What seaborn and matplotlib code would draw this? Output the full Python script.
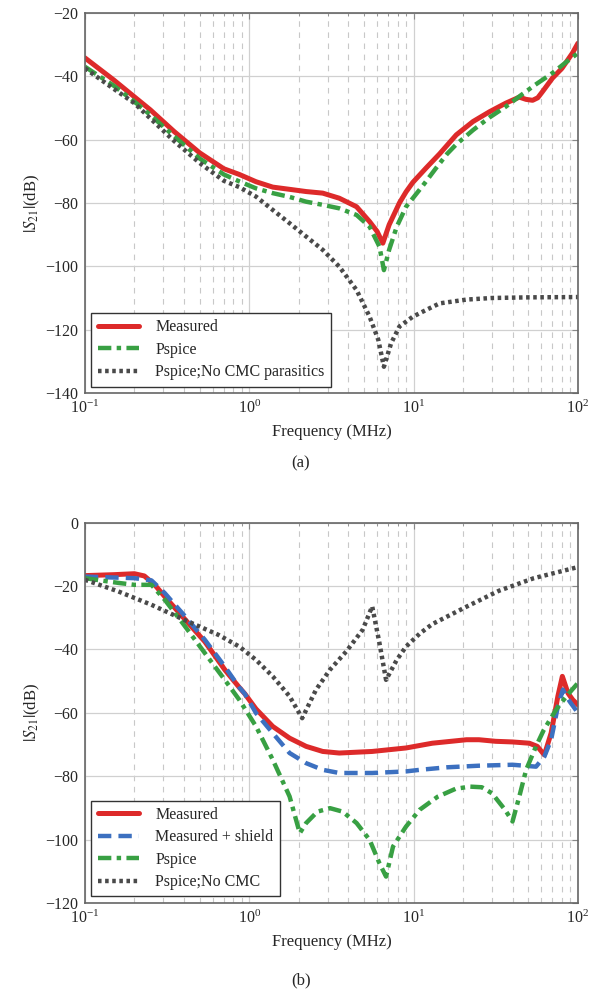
import numpy as np
import pandas as pd
import matplotlib
matplotlib.use("Agg")
import matplotlib.pyplot as plt
import seaborn as sns
from matplotlib.ticker import LogLocator, NullFormatter

# ---------------- Panel (a) data ----------------
a_meas_f = [0.1, 0.15, 0.2, 0.25, 0.35, 0.5, 0.7, 0.87, 1.1, 1.39, 1.76, 2.22, 2.8, 3.53, 4.5, 5.4, 6.0, 6.5,
            7.1, 8.2, 9.0, 9.9, 11.9, 14.4, 16.5, 18.2, 23, 29, 36.4, 44, 48.3, 53, 57, 61, 70, 80, 92.6, 100]
a_meas_y = [-34.2, -41.2, -46.5, -50.6, -57.5, -64.2, -69.2, -71.0, -73.3, -75.0, -75.7, -76.4, -76.9, -78.5,
            -81.2, -85.9, -89.0, -92.7, -86.9, -80.0, -76.5, -73.5, -69.0, -64.5, -61.0, -58.5, -54.3, -51.2,
            -48.5, -46.6, -47.3, -47.6, -46.8, -44.8, -40.6, -37.5, -32.7, -29.6]

a_psp_f = [0.1, 0.15, 0.2, 0.25, 0.35, 0.5, 0.7, 0.87, 1.1, 1.39, 1.76, 2.22, 2.8, 3.53, 4.5, 5.4, 6.2, 6.6,
           7.1, 7.9, 9.0, 11.4, 13.7, 16, 18.2, 23, 29, 36.4, 45, 55, 70, 85, 100]
a_psp_y = [-37.0, -43.0, -48.0, -52.2, -59.0, -66.0, -71.0, -73.2, -75.4, -76.9, -78.1, -79.6, -80.6, -81.7,
           -83.8, -87.5, -93.8, -101.2, -94.8, -87.5, -81.2, -74.5, -69.0, -64.5, -61.5, -57.0, -53.0, -49.6,
           -46.0, -42.7, -39.0, -35.5, -32.7]

a_nocmc_f = [0.1, 0.15, 0.2, 0.25, 0.35, 0.5, 0.7, 0.87, 1.1, 1.39, 1.76, 2.22, 2.8, 3.53, 4.5, 5.4, 6.1, 6.6,
             7.3, 8.2, 9.9, 11.9, 14.4, 21, 30, 50, 100]
a_nocmc_y = [-37.5, -44.0, -48.5, -53.3, -60.5, -67.4, -73.0, -75.0, -78.0, -82.2, -86.4, -90.6, -94.8, -100.1,
             -107.5, -115.9, -123.2, -131.7, -124.3, -119.0, -115.9, -113.8, -111.7, -110.5, -110.0, -109.8, -109.7]

# ---------------- Panel (b) data ----------------
b_meas_f = [0.1, 0.15, 0.2, 0.23, 0.266, 0.306, 0.4, 0.536, 0.71, 0.87, 0.94, 1.1, 1.39, 1.76, 2.22, 2.8, 3.53,
            5.6, 9.0, 13, 21, 25, 31.6, 40, 50.6, 56.6, 62.5, 68.7, 75.5, 80.4, 87, 93, 100]
b_meas_y = [-16.7, -16.4, -16.1, -16.8, -19.6, -23.3, -30.1, -37.5, -46.4, -52.0, -54.0, -58.8, -64.3, -68.0,
            -70.6, -72.2, -72.7, -72.2, -71.1, -69.6, -68.5, -68.5, -69.0, -69.2, -69.6, -70.6, -73.3, -66.4,
            -54.8, -48.5, -53.8, -55.9, -57.5]

b_shield_f = [0.1, 0.15, 0.2, 0.254, 0.306, 0.4, 0.536, 0.71, 0.87, 0.94, 1.1, 1.39, 1.76, 2.22, 2.8, 3.53, 5.6,
              9.0, 10.9, 16, 25, 40, 55.6, 62.5, 68.7, 75.5, 81, 89, 100]
b_shield_y = [-17.0, -17.3, -17.5, -18.2, -22.2, -29.1, -36.9, -45.4, -52.0, -54.0, -60.1, -66.4, -72.7, -75.9,
              -78.0, -79.0, -79.0, -78.5, -78.0, -77.2, -76.7, -76.4, -77.0, -73.8, -68.5, -58.0, -52.7, -56.4,
              -60.0]

b_psp_f = [0.1, 0.16, 0.2, 0.254, 0.306, 0.4, 0.536, 0.71, 0.87, 1.1, 1.39, 1.76, 2.03, 2.22, 2.6, 3.1, 3.7, 4.5,
           5.4, 6.2, 6.8, 7.5, 9.0, 10.9, 14, 18, 22, 26, 30, 36, 40, 44, 48.4, 55.6, 62, 73.7, 85, 100]
b_psp_y = [-17.5, -19.0, -19.6, -19.6, -24.3, -32.2, -41.1, -49.6, -55.9, -64.3, -74.8, -86.4, -98.0, -94.8,
           -91.2, -90.1, -91.2, -94.8, -100.1, -107.5, -111.7, -102.2, -95.9, -90.6, -86.5, -84.0, -83.3, -83.5,
           -85.4, -90.6, -94.3, -86.4, -78.0, -70.6, -65.4, -59.0, -54.8, -50.6]

b_nocmc_f = [0.1, 0.16, 0.254, 0.4, 0.65, 0.87, 1.1, 1.39, 1.76, 2.1, 2.55, 3.1, 3.9, 4.9, 5.6, 6.2, 6.8, 7.9,
             9.0, 10.9, 13, 21, 33, 54, 100]
b_nocmc_y = [-18.0, -21.7, -25.9, -30.6, -35.4, -39.1, -43.3, -48.5, -54.8, -61.7, -52.7, -46.4, -40.6, -33.8,
             -26.4, -38.0, -49.6, -43.3, -39.1, -35.0, -32.0, -26.5, -21.5, -17.5, -14.0]

sns.set_style("whitegrid")
plt.rcParams['font.family'] = ['Liberation Serif', 'DejaVu Serif']
plt.rcParams['mathtext.fontset'] = 'stix'

RED = '#dd2a2a'
BLUE = '#3c70c0'
GREEN = '#38a043'
GRAY = '#4a4a4a'

fig = plt.figure(figsize=(6.02, 9.90), dpi=100)
ax_a = fig.add_axes([0.141, 0.603, 0.819, 0.384])
ax_b = fig.add_axes([0.141, 0.088, 0.819, 0.384])


def draw(ax, f, y, color, ls, label, lw):
    df = pd.DataFrame({'f': f, 'y': y})
    sns.lineplot(data=df, x='f', y='y', ax=ax, color=color, lw=lw, label=label,
                 sort=False, estimator=None)
    ln = ax.lines[-1]
    ln.set_linestyle(ls)
    ln.set_solid_joinstyle('round')
    ln.set_dash_joinstyle('round')


DASHDOT = (0, (3.0, 1.2, 1.0, 1.2))
DOT = (0, (0.8, 0.8))
DASH = (0, (3.0, 1.6))

draw(ax_a, a_meas_f, a_meas_y, RED, '-', 'Measured', 3.6)
draw(ax_a, a_psp_f, a_psp_y, GREEN, DASHDOT, 'Pspice', 3.2)
draw(ax_a, a_nocmc_f, a_nocmc_y, GRAY, DOT, 'Pspice;No CMC parasitics', 3.2)

draw(ax_b, b_meas_f, b_meas_y, RED, '-', 'Measured', 3.6)
draw(ax_b, b_shield_f, b_shield_y, BLUE, DASH, 'Measured + shield', 3.2)
draw(ax_b, b_psp_f, b_psp_y, GREEN, DASHDOT, 'Pspice', 3.2)
draw(ax_b, b_nocmc_f, b_nocmc_y, GRAY, DOT, 'Pspice;No CMC', 3.2)

for ax, ylim, yt in [(ax_a, (-140, -20), np.arange(-140, -19, 20)),
                     (ax_b, (-120, 0), np.arange(-120, 1, 20))]:
    ax.set_xscale('log')
    ax.set_xlim(0.1, 100)
    ax.set_ylim(*ylim)
    ax.set_yticks(yt)
    ax.xaxis.set_minor_locator(LogLocator(base=10, subs=np.arange(2, 10)))
    ax.xaxis.set_minor_formatter(NullFormatter())
    ax.grid(True, which='major', color='#d0d0d0', lw=0.9, ls='-')
    ax.grid(True, which='minor', axis='x', color='#c8c8c8', lw=0.8, ls=(0, (5, 5)))
    ax.set_xlabel('Frequency (MHz)', fontsize=12, labelpad=5)
    ax.set_ylabel(r'$|S_{21}|$(dB)', fontsize=12, labelpad=2)
    ax.tick_params(axis='both', which='major', labelsize=11.5, direction='in',
                   length=4, color='#888888', right=True, top=True, pad=5)
    ax.tick_params(axis='x', which='minor', direction='in', length=2,
                   color='#888888', top=True)
    for s in ax.spines.values():
        s.set_color('#666666')
        s.set_linewidth(1.2)
    leg = ax.legend(loc='lower left', fontsize=11.5, fancybox=False, framealpha=1,
                    edgecolor='#333333', handlelength=2.6, handletextpad=1.0,
                    borderpad=0.4, labelspacing=0.4, borderaxespad=0.4)
    leg.get_frame().set_linewidth(1.0)

fig.text(0.5, 1 - 463 / 990, '(a)', ha='center', va='center', fontsize=12)
fig.text(0.5, 1 - 980 / 990, '(b)', ha='center', va='center', fontsize=12)

fig.savefig('out.png', dpi=100)
